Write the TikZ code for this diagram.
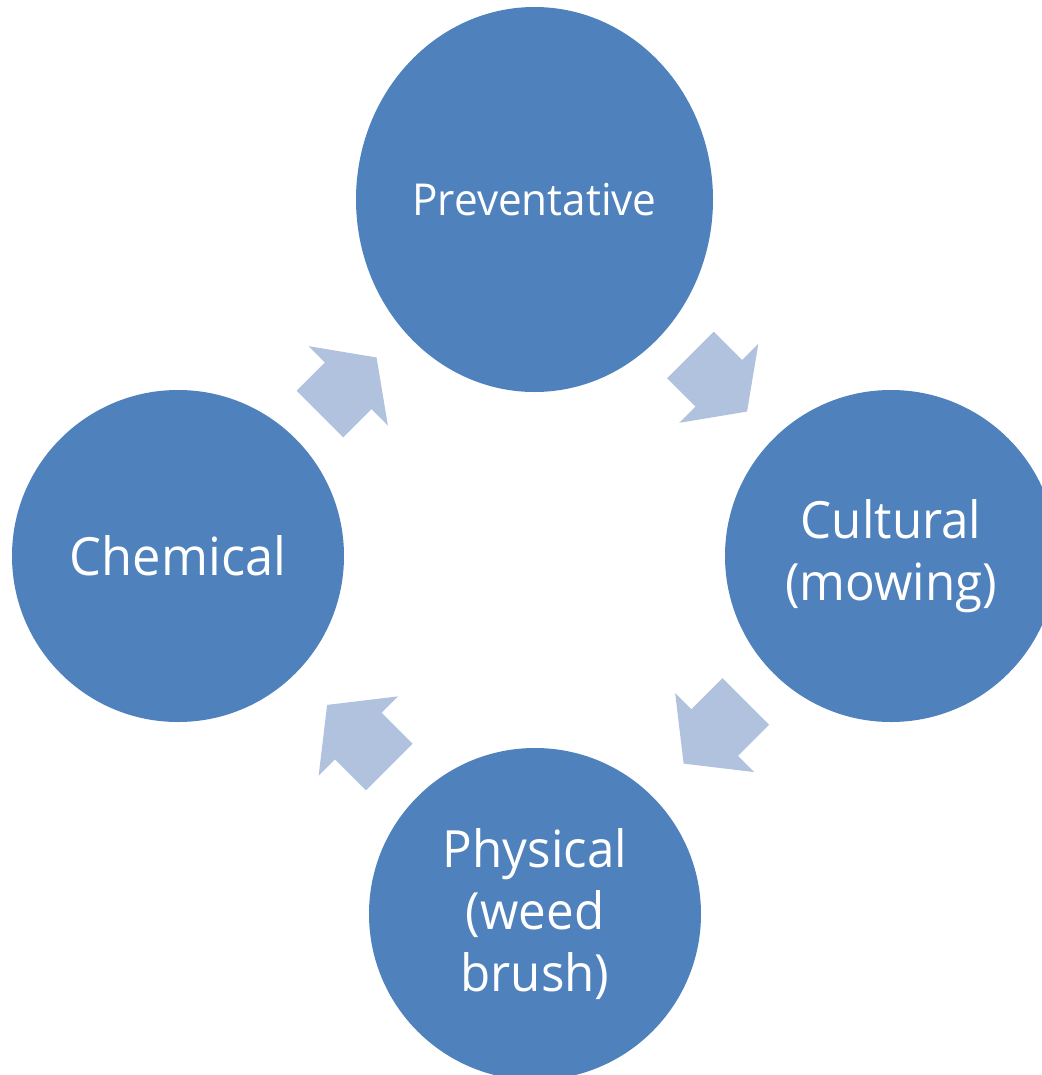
\documentclass[tikz,border=0pt]{standalone}
\usepackage{fontspec}
\setmainfont{Open Sans}[FakeStretch=0.96]
\usetikzlibrary{shapes.geometric}
\definecolor{circfill}{HTML}{4F81BD}
\definecolor{arrowfill}{HTML}{B0C2DE}
\tikzset{
  cycnode/.style={circle, fill=circfill, draw=none, inner sep=0pt, minimum size=249pt,
    text=white, align=center, font=\fontsize{38.5}{46.5}\selectfont},
  pics/cyclearrow/.style={code={
    \fill[arrowfill] (-#1,-33) -- (0,-33) -- (0,-56) -- (#1,0) -- (0,56) -- (0,33) -- (-#1,33) -- cycle;}}
}
\begin{document}
\begin{tikzpicture}[x=0.75pt,y=-0.75pt]
\useasboundingbox (0,0) rectangle (1042,1075);
\clip (0,0) rectangle (1042,1075);
\node[ellipse, fill=circfill, draw=none, inner sep=0pt, minimum width=267.75pt, minimum height=288.75pt,
  text=white, font=\fontsize{33}{40}\selectfont] (prev) at (534.5,199.5) {Preventative};
\node[cycnode] (cult) at (891,556) {Cultural\\(mowing)};
\node[cycnode] (phys) at (535,914) {Physical\\(weed\\brush)};
\node[cycnode, font=\fontsize{39.5}{46.5}\selectfont] (chem) at (178,556) {Chemical};
\pic[rotate=-45] at (718.75,383.25) {cyclearrow=40};
\pic[rotate=225] at (714.75,732.5) {cyclearrow=44};
\pic[rotate=135] at (358.25,736) {cyclearrow=44};
\pic[rotate=45] at (348.25,385.75) {cyclearrow=40};
\end{tikzpicture}
\end{document}
